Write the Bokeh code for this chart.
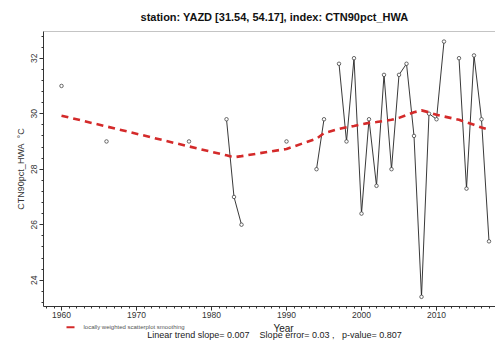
import numpy as np
from bokeh.plotting import figure
from bokeh.models import Range1d, Label, BoxAnnotation, FixedTicker, LinearAxis
from bokeh.embed import file_html
from bokeh.resources import INLINE

# ---- data ----
years = [1960, 1966, 1977, 1982, 1983, 1984, 1990, 1994, 1995, 1997, 1998, 1999,
         2000, 2001, 2002, 2003, 2004, 2005, 2006, 2007, 2008, 2009, 2010, 2011,
         2013, 2014, 2015, 2016, 2017]
values = [31.0, 29.0, 29.0, 29.8, 27.0, 26.0, 29.0, 28.0, 29.8, 31.8, 29.0, 32.0,
          26.4, 29.8, 27.4, 31.4, 28.0, 31.4, 31.8, 29.2, 23.4, 30.0, 29.8, 32.6,
          32.0, 27.3, 32.1, 29.8, 25.4]
loess = [29.93, 29.54, 28.82, 28.5, 28.43, 28.47, 28.73, 29.1, 29.3, 29.45, 29.51, 29.56,
         29.62, 29.67, 29.7, 29.74, 29.78, 29.85, 29.95, 30.05, 30.12, 30.05, 29.96, 29.9,
         29.78, 29.69, 29.6, 29.5, 29.42]
x_major = [1960, 1970, 1980, 1990, 2000, 2010]
y_major = [24, 26, 28, 30, 32]

title_text = "station: YAZD [31.54, 54.17], index: CTN90pct_HWA"
ylabel_text = "CTN90pct_HWA\u00a0\u00a0\u00b0C"
xlabel_text = "Year"
legend_text = "locally weighted scatterplot smoothing"
stats_text = ("Linear trend slope= 0.007\u00a0\u00a0\u00a0\u00a0Slope error= 0.03 ,"
              "\u00a0\u00a0\u00a0p-value= 0.807")

# line broken at missing years
lx, ly = [], []
for i, (yr, v) in enumerate(zip(years, values)):
    if i > 0 and yr - years[i - 1] > 1:
        lx.append(np.nan)
        ly.append(np.nan)
    lx.append(yr)
    ly.append(v)

FONT = "Liberation Sans"
W, H = 495, 340
# plotting box (data limits of the drawn axes)
XMIN, XMAX = 1957.6, 2017.87
YMIN, YMAX = 23.07, 32.96
# the frame covers the whole canvas; the axes are placed at the box edges
PX_PER_YEAR = 7.5
PX_PER_UNIT = 27.75
X0 = 1960 - 61 / PX_PER_YEAR
YTOP = 32 + 57.7 / PX_PER_UNIT


def px2x(px):
    return X0 + px / PX_PER_YEAR


def py2y(py):
    return YTOP - py / PX_PER_UNIT


p = figure(width=W, height=H, output_backend="svg", toolbar_location=None,
           title=None,
           x_range=Range1d(px2x(0), px2x(W)), y_range=Range1d(py2y(H), py2y(0)),
           min_border=0, min_border_left=0, min_border_right=0,
           min_border_top=0, min_border_bottom=0)
p.background_fill_color = "white"
p.border_fill_color = "white"
p.outline_line_color = None
p.grid.visible = False

p.line(lx, ly, line_color="#222222", line_width=0.9)
p.scatter(years, values, marker="circle", size=3.5, fill_color="white",
          line_color="#444444", line_width=0.8)
p.line(years, loess, line_color="#d42a2a", line_width=2.6, line_dash="7 5")

xa, ya = p.xaxis[0], p.yaxis[0]
xa.fixed_location = YMIN
ya.fixed_location = XMIN
xa.bounds = (XMIN, XMAX)
ya.bounds = (YMIN, YMAX)
for ax in (xa, ya):
    ax.axis_line_color = "#333333"
    ax.major_tick_line_color = "#333333"
    ax.minor_tick_line_color = "#333333"
    ax.major_tick_out = 4
    ax.major_tick_in = 0
    ax.minor_tick_out = 2
    ax.minor_tick_in = 0
    ax.major_label_text_font = FONT
    ax.major_label_text_font_size = "8.5px"
    ax.major_label_text_color = "#333333"
    ax.major_label_standoff = 2

xa.ticker = FixedTicker(ticks=x_major, minor_ticks=list(range(1958, 2018)))
ya.ticker = FixedTicker(ticks=y_major,
                        minor_ticks=[round(24 + 0.4 * i, 1) for i in range(-2, 23)])
ya.major_label_orientation = "vertical"
ya.axis_label = ylabel_text
ya.axis_label_text_font = FONT
ya.axis_label_text_font_size = "9px"
ya.axis_label_text_font_style = "normal"
ya.axis_label_text_color = "#333333"
ya.axis_label_standoff = 3

# light top border of the box (an axis with no ticks)
top = LinearAxis(fixed_location=YMAX, bounds=(XMIN, XMAX),
                 ticker=FixedTicker(ticks=[], minor_ticks=[]),
                 axis_line_color="#c4c4c4", major_tick_line_color=None,
                 minor_tick_line_color=None)
p.add_layout(top, "above")

# texts
p.add_layout(Label(x=px2x(274), y=py2y(16), text=title_text,
                   text_font=FONT, text_font_size="11px", text_font_style="bold",
                   text_align="center", text_baseline="middle", text_color="#111111"))
p.add_layout(BoxAnnotation(left=px2x(66), right=px2x(74),
                           bottom=py2y(327.8), top=py2y(325.8),
                           fill_color="#d42a2a", fill_alpha=1, line_color=None))
p.add_layout(Label(x=px2x(83), y=py2y(326.5), text=legend_text,
                   text_font=FONT, text_font_size="6px", text_color="#555555",
                   text_align="left", text_baseline="middle"))
p.add_layout(Label(x=px2x(283), y=py2y(327.5), text=xlabel_text,
                   text_font=FONT, text_font_size="10px", text_color="#222222",
                   text_align="center", text_baseline="middle"))
p.add_layout(Label(x=px2x(274), y=py2y(334.5), text=stats_text,
                   text_font=FONT, text_font_size="9px", text_color="#222222",
                   text_align="center", text_baseline="middle"))

open("out.html", "w").write(file_html(p, INLINE))
